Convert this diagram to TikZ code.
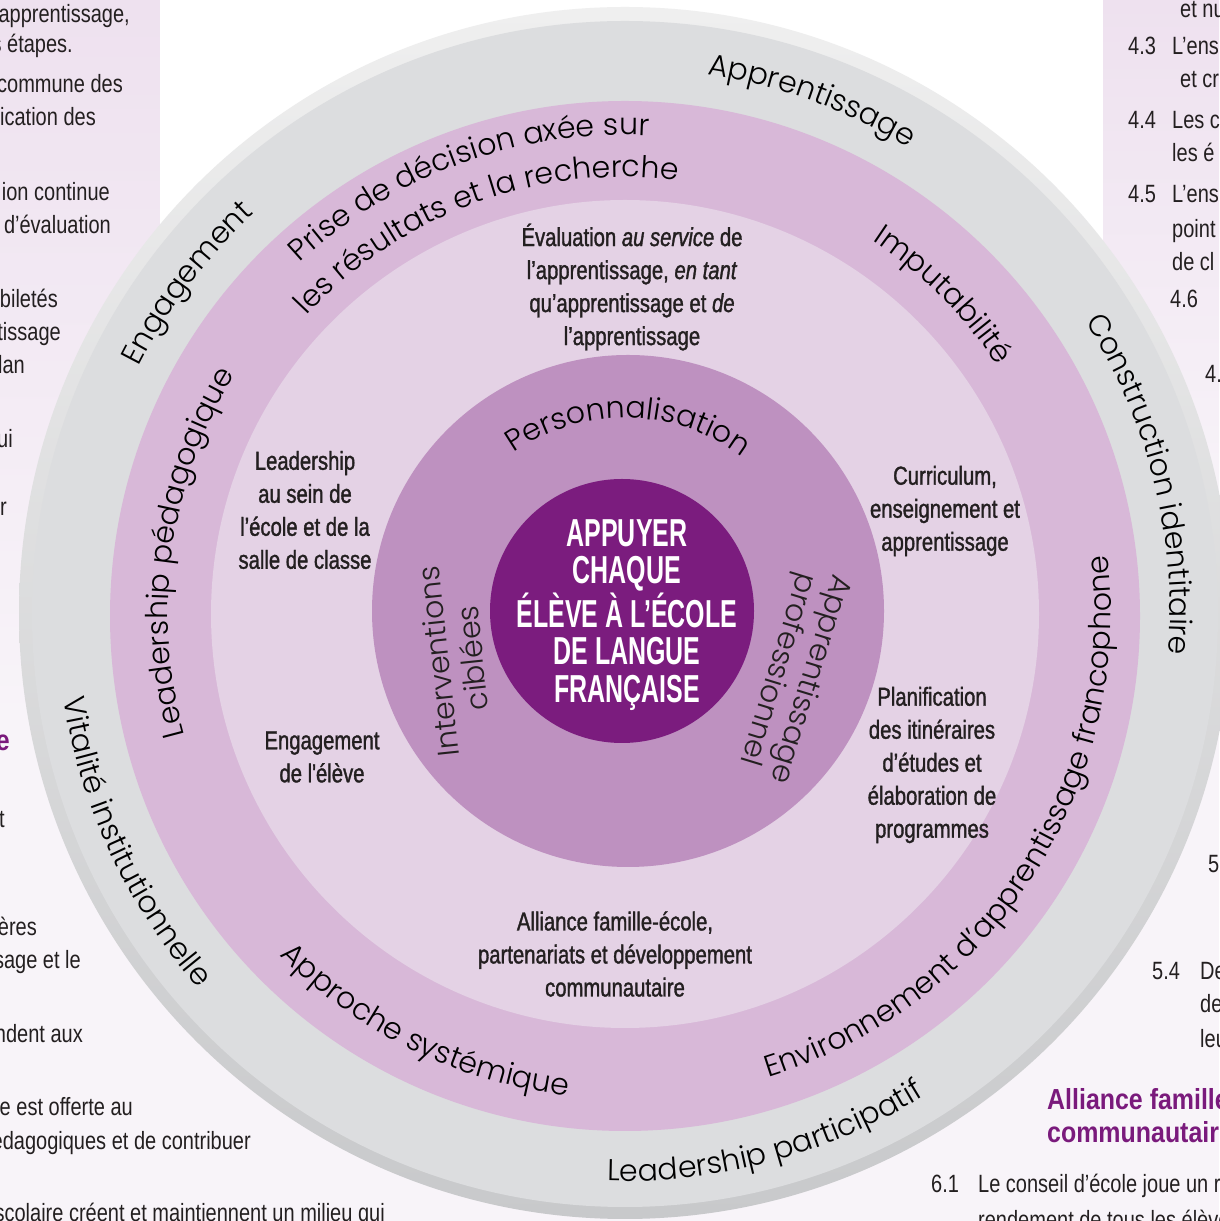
\documentclass[tikz,border=0pt]{standalone}
\usepackage{fontspec}
\setmainfont{Liberation Sans}
\newfontfamily\condfont{Liberation Sans}[FakeStretch=0.8]
\newfontfamily\lblfont{Liberation Sans}[FakeStretch=0.78,FakeBold=1.3]
\newfontfamily\headfont{Liberation Sans}[FakeStretch=0.86]
\newfontfamily\cbfont{Liberation Sans}[FakeStretch=0.64]
\newfontfamily\arcfont{Poppins Light}
\usetikzlibrary{decorations.text,calc}
\definecolor{bgpale}{HTML}{F8F4F9}
\definecolor{panel}{HTML}{EEE1EF}
\definecolor{rimtop}{HTML}{EFEFEF}
\definecolor{rimbot}{HTML}{C8C9CB}
\definecolor{greyring}{HTML}{DCDDDF}
\definecolor{pinkring}{HTML}{D8B8D8}
\definecolor{lightring}{HTML}{E4D2E5}
\definecolor{corering}{HTML}{BE91C0}
\definecolor{darkcore}{HTML}{7B1C7E}
\definecolor{ink}{HTML}{231F20}
\definecolor{headpurple}{HTML}{7A1A7C}
\newcommand\arcfmt{\arcfont\fontsize{30}{36}\selectfont}
\newcommand\ArcLabel[4]{\path[decorate,decoration={text along path,text align=center,text={|\arcfmt|#4}}] ($(O)+(#2:#1)$) arc[start angle=#2,end angle=#3,radius=#1];}
\tikzset{
  sidetxt/.style={font=\condfont\fontsize{25}{30}\selectfont, text=ink, inner sep=0pt},
  sidehead/.style={font=\headfont\bfseries\fontsize{29}{33}\selectfont, text=headpurple, inner sep=0pt},
  lbl/.style={font=\lblfont\fontsize{26}{33}\selectfont, text=ink, align=center, inner sep=0pt},
  ctr/.style={font=\cbfont\bfseries\fontsize{39}{37.5}\selectfont, text=white, align=center, inner sep=0pt},
  rotlbl/.style={font=\arcfont\fontsize{30}{34}\selectfont, text=ink, align=center, inner sep=0pt},
}
\begin{document}
\begin{tikzpicture}[x=1pt,y=1pt]
\useasboundingbox (0,0) rectangle (1219,1221);
% background
\fill[bgpale] (0,0) rectangle (1219,1221);
\shade[top color=panel, bottom color=bgpale] (0,1221) rectangle (160,500);
\fill[white] (160,1221) rectangle (1103,700);
\shade[top color=panel, bottom color=bgpale] (1103,1221) rectangle (1219,700);
% left column fragments
\node[sidetxt, anchor=base east] (l1) at (130,1198) {apprentissage,};
\node[sidetxt, anchor=base east] (l2) at (73,1168) {s étapes.};
\node[sidetxt, anchor=base east] (l3) at (123,1128) {commune des};
\node[sidetxt, anchor=base east] (l4) at (96,1095) {ication des};
\node[sidetxt, anchor=base east] (l5) at (110,1020) {ion continue};
\node[sidetxt, anchor=base east] (l6) at (111,987) {d’évaluation};
\node[sidetxt, anchor=base east] (l7) at (58,913) {biletés};
\node[sidetxt, anchor=base east] (l8) at (61,880) {tissage};
\node[sidetxt, anchor=base east] (l9) at (25,847) {lan};
\node[sidetxt, anchor=base east] (l10) at (13,773) {ui};
\node[sidetxt, anchor=base east] (l11) at (7,705) {r};
\node[sidehead, anchor=base east] (l12) at (10,470) {e};
\node[sidetxt, anchor=base east] (l13) at (5,393) {t};
\node[sidetxt, anchor=base east] (l14) at (37,285) {ières};
\node[sidetxt, anchor=base east] (l15) at (81,252) {sage et le};
\node[sidetxt, anchor=base east] (l16) at (83,178) {ndent aux};
\node[sidetxt, anchor=base east] (l17) at (133,105) {e est offerte au};
\node[sidetxt, anchor=base east] (l18) at (251,71) {édagogiques et de contribuer};
\node[sidetxt, anchor=base east] (l19) at (385,-1) {scolaire créent et maintiennent un milieu qui};
% right column fragments
\node[sidetxt, anchor=base west] (r1) at (1180,1203) {et nu};
\node[sidetxt, anchor=base west] (r2) at (1128,1166) {4.3};
\node[sidetxt, anchor=base west] (r2b) at (1172,1166) {L’ens};
\node[sidetxt, anchor=base west] (r3) at (1180,1133) {et cr};
\node[sidetxt, anchor=base west] (r4) at (1128,1092) {4.4};
\node[sidetxt, anchor=base west] (r4b) at (1172,1092) {Les c};
\node[sidetxt, anchor=base west] (r5) at (1172,1059) {les é};
\node[sidetxt, anchor=base west] (r6) at (1128,1018) {4.5};
\node[sidetxt, anchor=base west] (r6b) at (1172,1018) {L’ens};
\node[sidetxt, anchor=base west] (r7) at (1172,983) {point};
\node[sidetxt, anchor=base west] (r8) at (1172,950) {de cl};
\node[sidetxt, anchor=base west] (r9) at (1170,913) {4.6};
\node[sidetxt, anchor=base west] (r10) at (1205,838) {4.};
\node[sidetxt, anchor=base west] (r11) at (1208,348) {5};
\node[sidetxt, anchor=base west] (r12) at (1152,241) {5.4};
\node[sidetxt, anchor=base west] (r12b) at (1200,241) {De};
\node[sidetxt, anchor=base west] (r13) at (1200,208) {de};
\node[sidetxt, anchor=base west] (r14) at (1200,173) {leu};
\node[sidehead, anchor=base west] (r15) at (1047,111) {Alliance famille};
\node[sidehead, anchor=base west] (r16) at (1047,78) {communautaire};
\node[sidetxt, anchor=base west] (r17) at (931,28) {6.1};
\node[sidetxt, anchor=base west] (r17b) at (978,28) {Le conseil d’école joue un rôle};
\node[sidetxt, anchor=base west] (r18) at (978,-7) {rendement de tous les élèves};
% rings
\coordinate (O) at (625,608);
\shade[top color=rimtop, bottom color=rimbot] (625,608) circle[radius=606];
\fill[greyring] (625,607) circle[radius=593];
\fill[pinkring] (625,605) circle[radius=515];
\fill[lightring] (625,607) circle[radius=414];
\fill[corering] (628,610) circle[radius=256];
\fill[darkcore] (622,610) circle[radius=132];
% outer ring labels
\ArcLabel{545}{110}{30}{Apprentissage}
\ArcLabel{545}{183}{103}{Engagement}
\ArcLabel{545}{60}{-32}{Construction identitaire}
\ArcLabel{568}{160}{250}{Vitalité institutionnelle}
\ArcLabel{568}{-120}{-30}{Leadership participatif}
% pink ring labels
\ArcLabel{478}{159}{61}{Prise de décision axée sur}
\ArcLabel{436}{163}{57}{les résultats et la recherche}
\ArcLabel{447}{85}{5}{Imputabilité}
\ArcLabel{457}{225}{119}{Leadership pédagogique}
\ArcLabel{486}{-110}{44}{Environnement d’apprentissage francophone}
\ArcLabel{486}{-170}{-62}{Approche systémique}
% core ring labels
\ArcLabel{195}{175}{3}{Personnalisation}
\node[rotlbl, rotate=96] (interv) at (455,561) {Interventions\\ciblées};
\node[rotlbl, rotate=-107] (apprpro) at (793,547) {Apprentissage\\professionnel};
% centre
\node[ctr] (centre) at (627,606) {APPUYER\\CHAQUE\\ÉLÈVE À L’ÉCOLE\\DE LANGUE\\FRANÇAISE};
% light ring labels
\node[lbl] (evaluation) at (632,934) {Évaluation \textit{au service} de\\l’apprentissage, \textit{en tant}\\qu’apprentissage et \textit{de}\\l’apprentissage};
\node[lbl] (leadership) at (305,711) {Leadership\\au sein de\\l’école et de la\\salle de classe};
\node[lbl] (curriculum) at (945,710) {Curriculum,\\enseignement et\\apprentissage};
\node[lbl] (engagement) at (322,464) {Engagement\\de l'élève};
\node[lbl] (planif) at (932,456) {Planification\\des itinéraires\\d’études et\\élaboration de\\programmes};
\node[lbl] (alliance) at (615,267) {Alliance famille-école,\\partenariats et développement\\communautaire};
\end{tikzpicture}
\end{document}
